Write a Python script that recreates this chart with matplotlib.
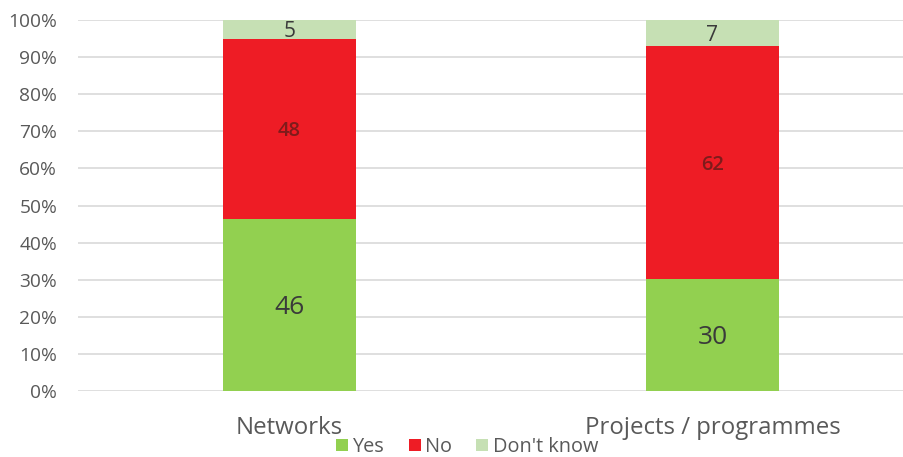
import numpy as np
import matplotlib.pyplot as plt

categories = ["Networks", "Projects / programmes"]
yes = [46, 30]
no = [48, 62]
dont_know = [5, 7]

plt.rcParams['font.family'] = ['Open Sans', 'DejaVu Sans']

# stacked to 100%
totals = np.array(yes) + np.array(no) + np.array(dont_know)
series = [("Yes", yes, "#92D050", 19), ("No", no, "#EE1C25", 14.5), ("Don't know", dont_know, "#C6E0B4", 15)]

fig = plt.figure(figsize=(9.04, 4.57), dpi=100)
ax = fig.add_axes([0.0863, 0.1444, 0.9137, 0.8118])

x = np.arange(len(categories))
bottom = np.zeros(len(categories))
handles = []
for name, vals, color, fs in series:
    pct = np.array(vals) / totals * 100
    b = ax.bar(x, pct, 0.314, bottom=bottom, color=color, label=name, zorder=2)
    handles.append(b)
    txtcol = "#7e1b1b" if name == "No" else "#3a3a3a"
    for xi, p, bt, v in zip(x, pct, bottom, vals):
        ax.text(xi, bt + p / 2, str(v), ha="center", va="center_baseline",
                fontsize=fs, color=txtcol,
                fontweight="semibold" if name == "No" else "normal")
    bottom += pct

ax.set_ylim(0, 100)
ax.set_xlim(-0.5, 1.453)
ax.set_yticks(np.arange(0, 101, 10))
ax.set_yticklabels([f"{v}%" for v in range(0, 101, 10)], fontsize=13.8, color="#595959")
ax.set_xticks(x)
ax.set_xticklabels(categories, fontsize=17.3, color="#595959")
ax.tick_params(axis="both", length=0)
ax.tick_params(axis="x", pad=18)
ax.tick_params(axis="y", pad=15)
ax.grid(axis="y", color="#d9d9d9", linewidth=1.2, zorder=0)
for s in ax.spines.values():
    s.set_visible(False)

fig.legend(handles=handles, loc="center", bbox_to_anchor=(0.517, 0.022), ncol=3,
           frameon=False, fontsize=14.3, handlelength=0.6, handleheight=0.6,
           handletextpad=0.25, columnspacing=1.2, labelcolor="#595959",
           borderpad=0)

fig.savefig("out.png", dpi=100)
